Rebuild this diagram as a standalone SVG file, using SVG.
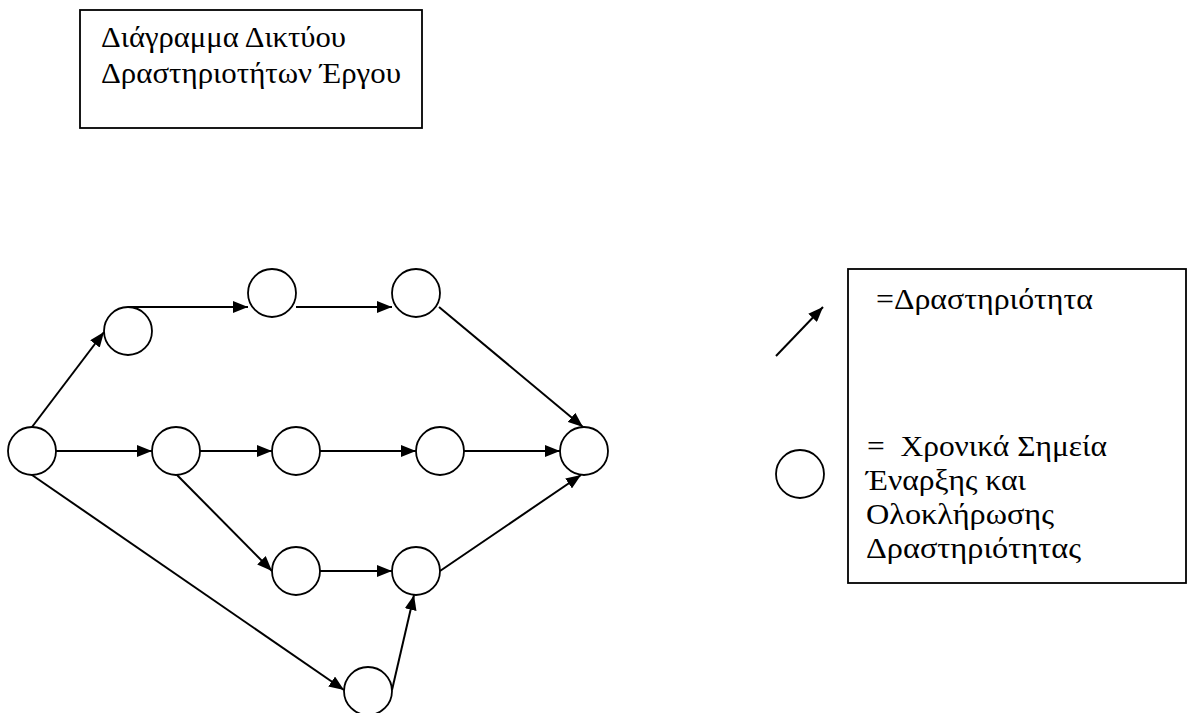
<svg xmlns="http://www.w3.org/2000/svg" width="1201" height="713" viewBox="0 0 1201 713">
<style>
.box{fill:#fff;stroke:#000;stroke-width:1.8}
.node{fill:#fff;stroke:#000;stroke-width:1.8}
.edge{fill:none;stroke:#000;stroke-width:2;marker-end:url(#ah)}
.txt{font-family:'Liberation Serif','Times New Roman','DejaVu Serif',serif;font-size:29px;fill:#000}
</style>
<defs>
<marker id="ah" markerUnits="userSpaceOnUse" markerWidth="16" markerHeight="12" refX="15" refY="6" orient="auto">
<path d="M0,0 L15,6 L0,12 Z" fill="#000"/>
</marker>
</defs>
<rect width="1201" height="713" fill="#fff"/>
<g id="title">
<rect class="box" x="80" y="10" width="342" height="118"/>
<text class="txt" x="101" y="47" textLength="245" lengthAdjust="spacingAndGlyphs">Διάγραμμα Δικτύου</text>
<text class="txt" x="101" y="83" textLength="300" lengthAdjust="spacingAndGlyphs">Δραστηριοτήτων Έργου</text>
</g>
<g id="connectors">
<line class="edge" x1="32" y1="427" x2="104" y2="332"/>
<line class="edge" x1="128" y1="307" x2="248" y2="307"/>
<line class="edge" x1="296" y1="307" x2="392" y2="307"/>
<line class="edge" x1="439" y1="307" x2="583" y2="427"/>
<line class="edge" x1="56" y1="451" x2="152" y2="451"/>
<line class="edge" x1="200" y1="451" x2="272" y2="451"/>
<line class="edge" x1="320" y1="451" x2="416" y2="451"/>
<line class="edge" x1="464" y1="451" x2="560" y2="451"/>
<line class="edge" x1="177" y1="475" x2="272" y2="571"/>
<line class="edge" x1="320" y1="571" x2="392" y2="571"/>
<line class="edge" x1="440" y1="571" x2="581" y2="475"/>
<line class="edge" x1="32" y1="475" x2="344" y2="690"/>
<line class="edge" x1="392" y1="690" x2="414" y2="595"/>
<line class="edge" x1="776" y1="356" x2="823" y2="307"/>
</g>
<g id="n_start"><circle class="node" cx="32" cy="451" r="24"/></g>
<g id="n_a"><circle class="node" cx="128" cy="331" r="24"/></g>
<g id="n_b"><circle class="node" cx="272" cy="293" r="24"/></g>
<g id="n_i"><circle class="node" cx="416" cy="293" r="24"/></g>
<g id="n_c"><circle class="node" cx="176" cy="451" r="24"/></g>
<g id="n_d"><circle class="node" cx="296" cy="451" r="24"/></g>
<g id="n_e"><circle class="node" cx="440" cy="451" r="24"/></g>
<g id="n_end"><circle class="node" cx="584" cy="451" r="24"/></g>
<g id="n_f"><circle class="node" cx="296" cy="571" r="24"/></g>
<g id="n_g"><circle class="node" cx="416" cy="571" r="24"/></g>
<g id="n_h"><circle class="node" cx="368" cy="691" r="24"/></g>
<g id="legend">
<rect class="box" x="848" y="269" width="338" height="314"/>
<text class="txt" x="876" y="309" textLength="217" lengthAdjust="spacingAndGlyphs">=Δραστηριότητα</text>
<circle class="node" cx="800" cy="474" r="24"/>
<text class="txt" x="867" y="456" textLength="240" lengthAdjust="spacingAndGlyphs" xml:space="preserve">=  Χρονικά Σημεία</text>
<text class="txt" x="866" y="490" textLength="160" lengthAdjust="spacingAndGlyphs">Έναρξης και</text>
<text class="txt" x="866" y="524" textLength="188" lengthAdjust="spacingAndGlyphs">Ολοκλήρωσης</text>
<text class="txt" x="866" y="558" textLength="215" lengthAdjust="spacingAndGlyphs">Δραστηριότητας</text>
</g>
</svg>
